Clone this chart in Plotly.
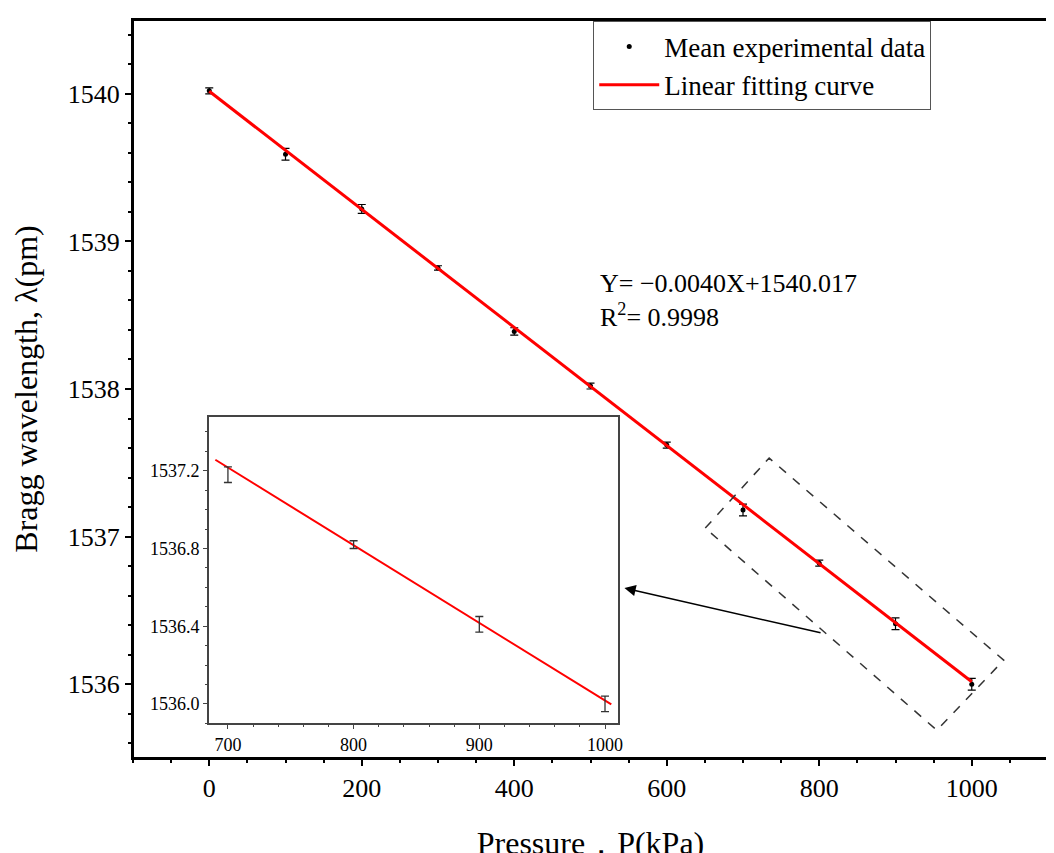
import plotly.graph_objects as go

pressure = [0, 100, 200, 300, 400, 500, 600, 700, 800, 900, 1000]
wavelength = [1540.02, 1539.59, 1539.22, 1538.82, 1538.39, 1538.02, 1537.62, 1537.18, 1536.82, 1536.41, 1536.00]
errors = [0.02, 0.04, 0.03, 0.015, 0.025, 0.02, 0.02, 0.04, 0.02, 0.04, 0.04]
slope, intercept = -0.0040, 1540.017
fit_x = [0, 1000]
fit_y = [intercept + slope * x for x in fit_x]
inset_x = [690, 1005]
inset_fit_y = [intercept + slope * x for x in inset_x]
in_p = pressure[7:]
in_w = wavelength[7:]
in_e = errors[7:]

F = "Liberation Serif"
fig = go.Figure()
fig.add_trace(go.Scatter(x=pressure, y=wavelength, mode="markers", name="Mean experimental data",
    marker=dict(color="black", size=5),
    error_y=dict(type="data", array=errors, color="black", thickness=1.2, width=4)))
fig.add_trace(go.Scatter(x=fit_x, y=fit_y, mode="lines", name="Linear fitting curve",
    line=dict(color="red", width=3)))
fig.add_trace(go.Scatter(x=inset_x, y=inset_fit_y, mode="lines", showlegend=False,
    line=dict(color="red", width=2), xaxis="x2", yaxis="y2"))
fig.add_trace(go.Scatter(x=in_p, y=in_w, mode="markers", showlegend=False,
    marker=dict(color="black", size=1, opacity=0),
    error_y=dict(type="data", array=in_e, color="#333", thickness=1.3, width=4),
    xaxis="x2", yaxis="y2"))

ax = dict(showline=True, linecolor="black", linewidth=2, mirror=True, showgrid=False, zeroline=False,
          ticks="outside", ticklen=6, tickwidth=1.5, tickcolor="black", automargin=False,
          tickfont=dict(size=26),
          minor=dict(ticks="outside", ticklen=3, tickcolor="black"))
fig.update_layout(
    width=1054, height=853, paper_bgcolor="white", plot_bgcolor="white",
    margin=dict(l=125, r=14, t=12, b=103),
    font=dict(family=F, color="black", size=22),
    xaxis=dict(**ax, range=[-100, 1100], dtick=200, tick0=0, domain=[0, 1],
               title=dict(text="Pressure，P(kPa)", font=dict(size=32), standoff=30)),
    yaxis=dict(**ax, range=[1535.5, 1540.5], dtick=1, domain=[0, 1],
               title=dict(text="Bragg wavelength, λ(pm)", font=dict(size=32), standoff=22)),
    xaxis2=dict(showline=True, linecolor="#444", linewidth=1.5, mirror=True, showgrid=False, zeroline=False,
                ticks="outside", ticklen=4, tickcolor="#444", range=[684.9, 1010.3], dtick=100, tick0=700,
                minor=dict(ticks="outside", ticklen=2, tickcolor="#444"), automargin=False,
                domain=[0.083, 0.530], anchor="y2", tickfont=dict(size=18)),
    yaxis2=dict(showline=True, linecolor="#444", linewidth=1.5, mirror=True, showgrid=False, zeroline=False,
                ticks="outside", ticklen=4, tickcolor="#444", range=[1535.90, 1537.477], dtick=0.4,
                tick0=1536.0, tickformat=".1f", minor=dict(ticks="outside", ticklen=2, tickcolor="#444"),
                automargin=False, domain=[0.047, 0.462], anchor="x2", tickfont=dict(size=18)),
    legend=dict(x=0.503, y=0.998, xanchor="left", yanchor="top", bordercolor="#555", borderwidth=1,
                bgcolor="white", font=dict(size=27), itemwidth=60, tracegroupgap=0),
    showlegend=True,
)
fig.add_shape(type="rect", xref="paper", yref="paper", x0=0, x1=1, y0=0, y1=1,
    line=dict(color="black", width=2), layer="above")
fig.add_shape(type="path", xref="x", yref="y",
    path="M 650.5 1537.058 L 734.3 1537.532 L 1041.9 1536.163 L 954.2 1535.688 Z",
    line=dict(color="#333", width=1.5, dash="dash"))
fig.add_annotation(x=544.5, y=1536.651, ax=803.7, ay=1536.346, xref="x", yref="y", axref="x", ayref="y",
    showarrow=True, arrowhead=2, arrowsize=1.5, arrowwidth=1.5, arrowcolor="black", text="")
fig.add_annotation(x=510, y=1538.6, xref="x", yref="y", xanchor="left", showarrow=False,
    text="Y= −0.0040X+1540.017<br>R<sup>2</sup>= 0.9998", align="left", font=dict(size=26))
fig.write_html("out.html")
